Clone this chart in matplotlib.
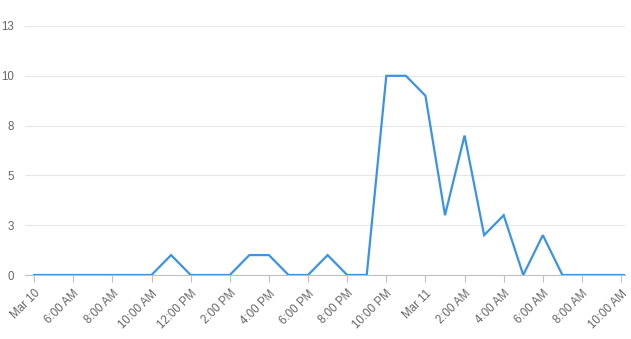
import datetime as dt

import matplotlib
matplotlib.use("Agg")
import matplotlib.pyplot as plt
import matplotlib.dates as mdates

# hourly counts, Mar 10 04:00 -> Mar 11 10:00, plus a trailing partial point
START = dt.datetime(2024, 3, 10, 4, 0)
counts = [0, 0, 0, 0, 0, 0, 0, 1, 0, 0, 0, 1, 1, 0, 0, 1, 0, 0,
          10, 10, 9, 3, 7, 2, 3, 0, 2, 0, 0, 0, 0]
last_time = dt.datetime(2024, 3, 11, 10, 12)
last_count = 0

y_ticks = [0, 2.5, 5, 7.5, 10, 12.5]
y_labels = ["0", "3", "5", "8", "10", "13"]

x_tick_labels = ["Mar 10", "6:00 AM", "8:00 AM", "10:00 AM", "12:00 PM",
                 "2:00 PM", "4:00 PM", "6:00 PM", "8:00 PM", "10:00 PM",
                 "Mar 11", "2:00 AM", "4:00 AM", "6:00 AM", "8:00 AM",
                 "10:00 AM"]

times = [START + dt.timedelta(hours=i) for i in range(len(counts))]
times.append(last_time)
values = counts + [last_count]
tick_times = [START + dt.timedelta(hours=2 * i) for i in range(len(x_tick_labels))]

plt.rcParams["font.family"] = ["Liberation Sans", "DejaVu Sans"]

fig = plt.figure(figsize=(6.31, 3.39), dpi=100)
ax = fig.add_axes([25 / 631, 64 / 339, 600 / 631, 249 / 339])

ax.plot(times, values, color="#3b93e6", lw=1.6, solid_joinstyle="miter", zorder=3)

left = START - dt.timedelta(minutes=28)
ax.set_xlim(left, last_time)
ax.set_ylim(0, 12.5)

ax.set_yticks(y_ticks)
ax.set_yticklabels(y_labels)
ax.tick_params(axis="y", length=0, pad=8, labelsize=8.3, labelcolor="#666666")
ax.grid(axis="y", color="#e6e6e6", lw=0.8)
ax.set_axisbelow(True)

ax.set_xticks(mdates.date2num(tick_times))
ax.set_xticklabels(x_tick_labels, rotation=45, ha="right",
                   rotation_mode="anchor")
ax.tick_params(axis="x", length=5, width=0.8, color="#c0c0c0", pad=4,
               labelsize=8.3, labelcolor="#666666")

for s in ["top", "right", "left"]:
    ax.spines[s].set_visible(False)
ax.spines["bottom"].set_color("#c0c0c0")
ax.spines["bottom"].set_linewidth(0.8)

fig.savefig("out.png", dpi=100)
